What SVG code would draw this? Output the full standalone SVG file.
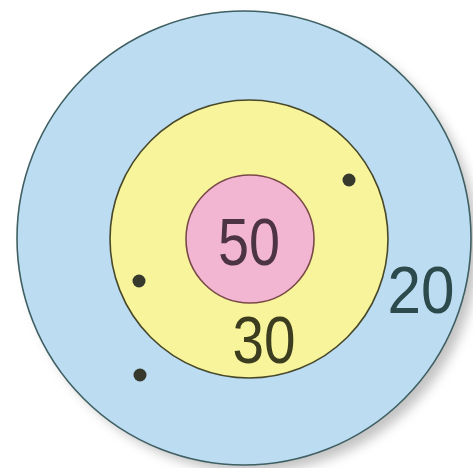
<svg xmlns="http://www.w3.org/2000/svg" width="473" height="468" viewBox="0 0 473 468">
<defs>
<filter id="sh" x="-20%" y="-20%" width="140%" height="140%"><feGaussianBlur stdDeviation="6"/></filter>
<style>
.lbl{font-family:"Liberation Sans",Arial,sans-serif;font-size:66px;text-anchor:middle}
.dot{fill:#37392c}
</style>
</defs>
<rect width="473" height="468" fill="#ffffff"/>
<circle cx="252" cy="246" r="226" fill="#9a9a9a" opacity="0.6" filter="url(#sh)"/>
<g id="ring20">
<circle cx="244" cy="238" r="227" fill="#bcdcf2" stroke="#3f5f62" stroke-width="1.6"/>
</g>
<g id="ring30">
<circle cx="249" cy="239" r="139" fill="#f7f49c" stroke="#48482a" stroke-width="1.6"/>
</g>
<g id="ring50">
<circle cx="250" cy="239" r="64" fill="#f2b6d3" stroke="#7a4a48" stroke-width="1.6"/>
</g>
<g id="labels">
<text class="lbl" x="249" y="265" fill="#4c3446" textLength="62" lengthAdjust="spacingAndGlyphs">50</text>
<text class="lbl" x="264" y="363" fill="#3c3c1e" textLength="63" lengthAdjust="spacingAndGlyphs">30</text>
<text class="lbl" x="421" y="313" fill="#2c4a4c" textLength="67" lengthAdjust="spacingAndGlyphs">20</text>
</g>
<g id="dots">
<circle class="dot" cx="349" cy="180" r="6.5"/>
<circle class="dot" cx="139" cy="281" r="6.5"/>
<circle class="dot" cx="140" cy="375" r="6.5"/>
</g>
</svg>
